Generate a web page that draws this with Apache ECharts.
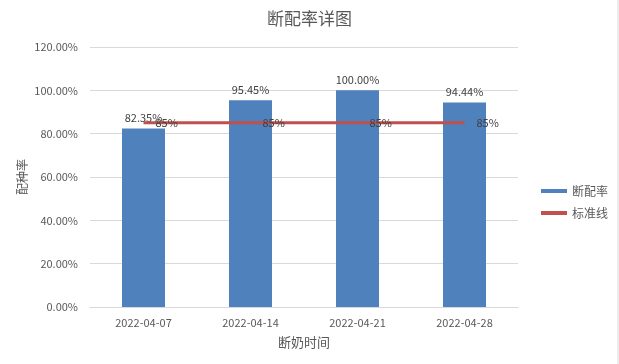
<!DOCTYPE html>
<html><head><meta charset="utf-8">
<script src="https://cdn.jsdelivr.net/npm/echarts@6/dist/echarts.min.js"></script>
<style>html,body{margin:0;padding:0;background:#fff}#c{width:619px;height:364px}</style>
</head><body><div id="c"></div>
<script>
var categories = ['2022-04-07','2022-04-14','2022-04-21','2022-04-28'];
var rateValues = [82.35, 95.45, 100.00, 94.44];
var standardValues = [85, 85, 85, 85];
var yTicks = [0, 20, 40, 60, 80, 100, 120];

var chart = echarts.init(document.getElementById('c'));
var font = '"Microsoft YaHei","Noto Sans CJK SC","Liberation Sans",sans-serif';
chart.setOption({
  animation: false,
  textStyle: {fontFamily: font},
  title: {text: '断配率详图', left: 'center', top: 5, textStyle: {fontSize: 17, fontWeight: 'normal', color: '#595959', fontFamily: font}},
  graphic: [{type: 'line', shape: {x1: 618, y1: 0, x2: 618, y2: 364}, style: {stroke: '#d9d9d9', lineWidth: 1}}],
  legend: {
    orient: 'vertical', left: 536, top: 180, itemGap: 10, itemWidth: 26, itemHeight: 4,
    textStyle: {fontSize: 12, color: '#595959'},
    data: [{name: '断配率', icon: 'rect'}, {name: '标准线', icon: 'rect'}]
  },
  grid: {left: 90, right: 101, top: 47, bottom: 57},
  xAxis: {
    type: 'category', data: categories,
    name: '断奶时间', nameLocation: 'middle', nameGap: 29, nameMoveOverlap: false,
    nameTextStyle: {fontSize: 13, color: '#595959'},
    axisLine: {lineStyle: {color: '#d9d9d9'}},
    axisTick: {show: false},
    axisLabel: {fontSize: 11, color: '#595959', margin: 10}
  },
  yAxis: {
    type: 'value', min: yTicks[0], max: yTicks[yTicks.length-1], interval: 20,
    name: '配种率', nameLocation: 'middle', nameGap: 62, nameRotate: 90, nameMoveOverlap: false,
    nameTextStyle: {fontSize: 12, color: '#595959'},
    axisLine: {show: false}, axisTick: {show: false},
    splitLine: {lineStyle: {color: '#d9d9d9'}},
    axisLabel: {fontSize: 11, color: '#595959', margin: 12, formatter: function(v){return v.toFixed(2)+'%';}}
  },
  series: [
    {name: '断配率', type: 'bar', data: rateValues, barWidth: 43, itemStyle: {color: '#4f81bd'},
     label: {show: true, position: 'top', distance: 5, fontSize: 11, color: '#404040', formatter: function(p){return p.value.toFixed(2)+'%';}}},
    {name: '标准线', type: 'line', data: standardValues, symbol: 'circle', symbolSize: 0, showSymbol: true,
     lineStyle: {color: '#c0504d', width: 3}, itemStyle: {color: '#c0504d'},
     label: {show: true, position: 'right', distance: 12, fontSize: 11, color: '#404040', formatter: function(p){return p.value+'%';}}}
  ]
});
</script></body></html>
